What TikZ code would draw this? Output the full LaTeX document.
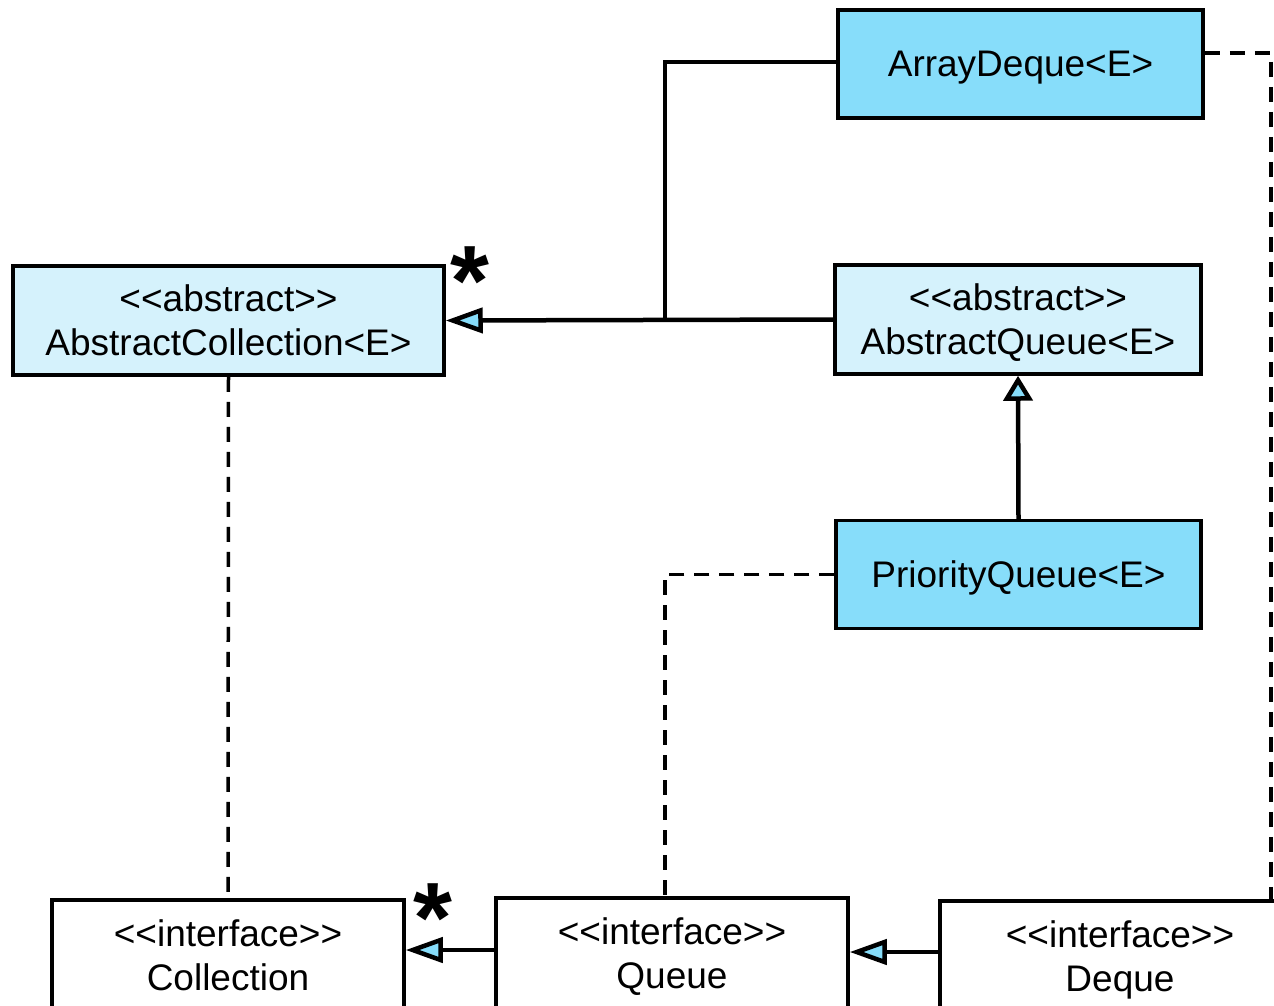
\documentclass[tikz,border=0pt]{standalone}
\usepackage{fontspec}
\setmainfont{Liberation Sans}
\usetikzlibrary{arrows.meta}
\definecolor{classblue}{RGB}{135,221,250}
\definecolor{abstractblue}{RGB}{213,242,252}
\tikzset{
  umlbox/.style={draw=black, line width=3.5pt, rectangle, inner sep=0pt, align=center,
    text depth=0pt, font=\fontsize{37}{44}\selectfont},
  concrete/.style={umlbox, fill=classblue, minimum width=365pt, minimum height=108pt},
  abstractcls/.style={umlbox, fill=abstractblue, minimum height=109pt},
  iface/.style={umlbox, fill=white, minimum width=352pt, minimum height=110pt},
  assoc/.style={line width=4.5pt},
  realize/.style={line width=3.5pt, dash pattern=on 15pt off 10pt},
  inherit/.style={assoc, -{Triangle[length=37pt, width=25pt, fill=classblue]}},
  inheritup/.style={assoc, -{Triangle[length=25pt, width=29pt, fill=classblue]}},
  mult/.style={font=\bfseries\fontsize{100}{100}\selectfont, inner sep=0pt},
}
\begin{document}
\begin{tikzpicture}[x=1pt, y=-1pt]
\useasboundingbox (0,0) rectangle (1274,1005);
\clip (0,0) rectangle (1274,1005);

% classes
\node[concrete] (ad) at (1020.5,64) {ArrayDeque<E>};
\node[abstractcls, minimum width=431pt] (ac) at (228.5,320.5) {<{}<abstract>{}>\\AbstractCollection<E>};
\node[abstractcls, minimum width=366pt] (aq) at (1018,319.5) {<{}<abstract>{}>\\AbstractQueue<E>};
\node[concrete] (pq) at (1018.5,574.5) {PriorityQueue<E>};

% interfaces
\node[iface] (coll) at (228,955) {<{}<interface>{}>\\Collection};
\node[iface] (queue) at (672,953) {<{}<interface>{}>\\Queue};
\node[iface, minimum width=360pt] (deque) at (1120,956) {<{}<interface>{}>\\Deque};

% generalisation
\coordinate (join) at (665,320);
\coordinate (qside) at ([yshift=3pt]queue.west);
\coordinate (dside) at ([yshift=4pt]deque.west);
\draw[assoc] ([yshift=2pt]ad.west) -| (join);
\draw[inherit] (aq.west) -- (ac.east);
\draw[inheritup] (pq.north) -- (aq.south);
\draw[inherit] (qside) -- (coll.east |- qside);
\draw[inherit] (dside) -- (queue.east |- dside);

% realisation
\draw[realize] (ac.south) -- (coll.north);
\draw[realize] (pq.west) -| (queue.north -| join);
\coordinate (rightedge) at (1271,53);
\draw[realize] (ad.east |- rightedge) -- (rightedge) -- (rightedge |- deque.north);

% multiplicities
\node[mult] (m1) at (470,281) {*};
\node[mult] (m2) at (433,918) {*};
\end{tikzpicture}
\end{document}
